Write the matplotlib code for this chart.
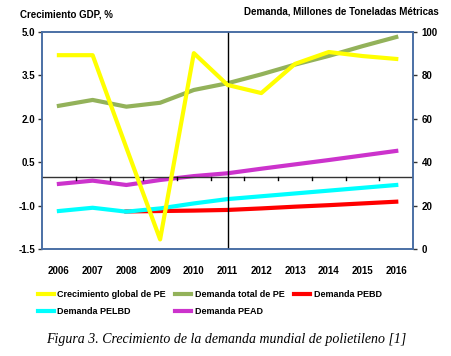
import matplotlib
matplotlib.use('Agg')
import matplotlib.pyplot as plt

# Datos
anios = [2006, 2007, 2008, 2009, 2010, 2011, 2012, 2013, 2014, 2015, 2016]
crecimiento_pe = [4.2, 4.2, 1.0, -2.17, 4.27, 3.17, 2.89, 3.9, 4.31, 4.17, 4.07]
demanda_total = [66, 68.7, 65.6, 67.4, 73.3, 76.4, 80.5, 85, 89, 93.5, 97.7]
demanda_pead = [30, 31.5, 29.5, 31.8, 33.6, 34.9, 37, 39, 41, 43.1, 45.2]
demanda_pelbd = [17.5, 19, 17.2, 18.7, 21, 23, 24.3, 25.6, 26.9, 28.2, 29.5]
anios_pebd = [2008, 2009, 2010, 2011, 2012, 2013, 2014, 2015, 2016]
demanda_pebd = [17.3, 17.5, 17.7, 18, 18.7, 19.5, 20.2, 21, 21.8]

ticks_izq = [5.0, 3.5, 2.0, 0.5, -1.0, -2.5]
etiquetas_izq = ['5.0', '3.5', '2.0', '0.5', '-1.0', '-1.5']
ticks_der = [100, 80, 60, 40, 20, 0]

plt.rcParams['font.family'] = ['Liberation Sans', 'DejaVu Sans']
borde = '#4A6FA5'

fig = plt.figure(figsize=(4.52, 3.56), dpi=100)
ax = fig.add_axes([0.093, 0.3006, 0.821, 0.6094])
ax2 = ax.twinx()

ax.set_xlim(2005.5, 2016.5)
ax.set_ylim(-2.5, 5.0)
ax2.set_ylim(0, 100)

# lineas de referencia
ax.axhline(0, color='#333333', lw=1.0, zorder=1)
ax.axvline(2011, color='black', lw=1.0, zorder=1)
for xb in range(2006, 2016):
    ax.plot([xb + 0.5, xb + 0.5], [0, -0.12], color='black', lw=1.0, zorder=1)

lw = 3.0
l1, = ax.plot(anios, crecimiento_pe, color='#FFFF00', lw=lw, zorder=5,
              label='Crecimiento global de PE')
l2, = ax2.plot(anios, demanda_total, color='#93B25A', lw=lw, label='Demanda total de PE')
l3, = ax2.plot(anios_pebd, demanda_pebd, color='#FF0000', lw=lw, label='Demanda PEBD')
l4, = ax2.plot(anios, demanda_pelbd, color='#00FFFF', lw=lw, label='Demanda PELBD')
l5, = ax2.plot(anios, demanda_pead, color='#CC33CC', lw=lw, label='Demanda PEAD')
ax.set_zorder(ax2.get_zorder() + 1)
ax.patch.set_visible(False)

ax.set_yticks(ticks_izq)
ax.set_yticklabels(etiquetas_izq, fontsize=7, fontweight='bold')
ax2.set_yticks(ticks_der)
ax2.set_yticklabels([str(t) for t in ticks_der], fontsize=7, fontweight='bold')
ax.set_xticks(anios)
ax.set_xticklabels([str(a) for a in anios], fontsize=7, fontweight='bold')
ax.tick_params(axis='x', length=0, pad=12)
ax.tick_params(axis='y', length=3, width=1, pad=2, color='#333333')
ax2.tick_params(axis='y', length=3, width=1, pad=3, color='#333333')

for a in (ax, ax2):
    for s in a.spines.values():
        s.set_color(borde)
        s.set_linewidth(1.2)

fig.text(0.045, 0.958, 'Crecimiento GDP, %', fontsize=7, fontweight='bold', ha='left', va='center')
fig.text(0.97, 0.968, 'Demanda, Millones de Toneladas Métricas', fontsize=7,
         fontweight='bold', ha='right', va='center')

fig.legend(handles=[l1, l4, l2, l5, l3], ncol=3, loc='upper left',
           bbox_to_anchor=(0.075, 0.195), frameon=False,
           prop={'weight': 'bold', 'size': 6.5}, handlelength=1.8, handletextpad=0.4,
           columnspacing=1.0, labelspacing=0.9, borderaxespad=0)

fig.text(0.5, 0.045, 'Figura 3. Crecimiento de la demanda mundial de polietileno [1]',
         fontsize=10, style='italic', family='Liberation Serif', ha='center', va='center')

fig.savefig('out.png', dpi=100)
